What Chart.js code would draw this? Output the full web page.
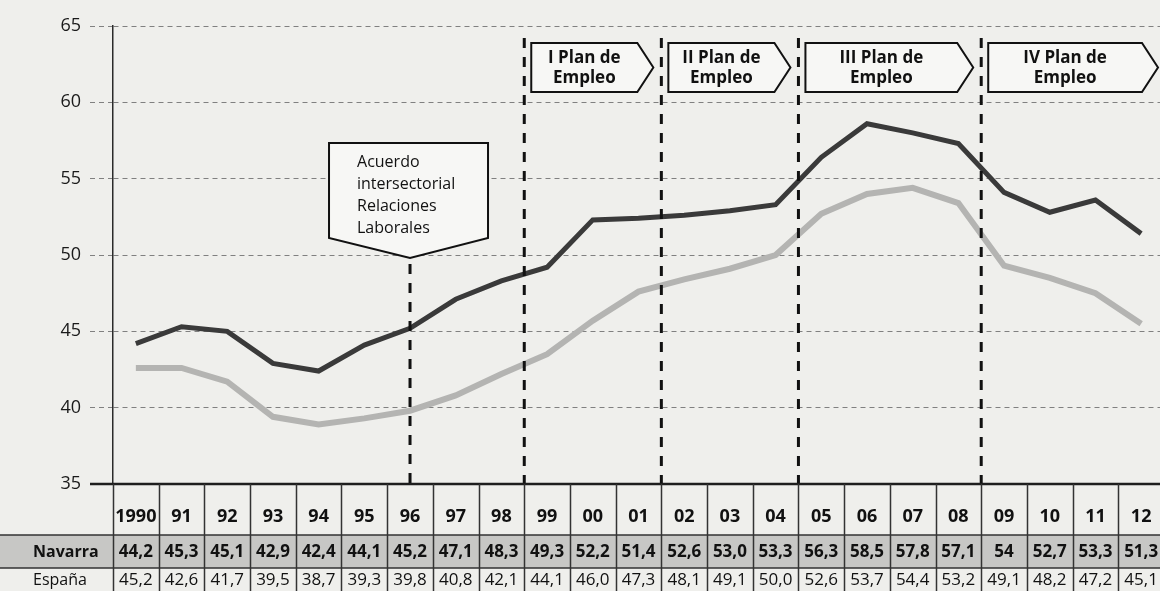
<!DOCTYPE html>
<html>
<head>
<meta charset="utf-8">
<script src="https://cdn.jsdelivr.net/npm/chart.js@4.4.1/dist/chart.umd.min.js"></script>
<style>
  html, body { margin: 0; padding: 0; background: #efefec; overflow: hidden; }
  #contenedor { position: relative; width: 1166px; height: 591px; }
</style>
</head>
<body>
<div id="contenedor"><canvas id="grafico"></canvas></div>
<script>
// Datos
const anos = ['1990', '91', '92', '93', '94', '95', '96', '97', '98', '99', '00', '01',
              '02', '03', '04', '05', '06', '07', '08', '09', '10', '11', '12'];

const navarra = [44.2, 45.3, 45.0, 42.9, 42.4, 44.1, 45.2, 47.1, 48.3, 49.2, 52.3, 52.4,
                 52.6, 52.9, 53.3, 56.4, 58.6, 58.0, 57.3, 54.1, 52.8, 53.6, 51.4];
const espana = [42.6, 42.6, 41.7, 39.4, 38.9, 39.3, 39.8, 40.8, 42.2, 43.5, 45.7, 47.6,
                48.4, 49.1, 50.0, 52.7, 54.0, 54.4, 53.4, 49.3, 48.5, 47.5, 45.5];

// textos de la tabla inferior, tal como aparecen impresos
const filaNavarra = ['44,2', '45,3', '45,1', '42,9', '42,4', '44,1', '45,2', '47,1', '48,3', '49,3', '52,2', '51,4',
                     '52,6', '53,0', '53,3', '56,3', '58,5', '57,8', '57,1', '54', '52,7', '53,3', '51,3'];
const filaEspana = ['45,2', '42,6', '41,7', '39,5', '38,7', '39,3', '39,8', '40,8', '42,1', '44,1', '46,0', '47,3',
                    '48,1', '49,1', '50,0', '52,6', '53,7', '54,4', '53,2', '49,1', '48,2', '47,2', '45,1'];

const ticksY = [35, 40, 45, 50, 55, 60, 65];

// anotaciones
const acuerdoAno = '96';
const acuerdoTexto = ['Acuerdo', 'intersectorial', 'Relaciones', 'Laborales'];
const planesInicio = ['99', '02', '05', '09'];
const planesTexto = [['I Plan de', 'Empleo'], ['II Plan de', 'Empleo'], ['III Plan de', 'Empleo'], ['IV Plan de', 'Empleo']];

const FUENTE = '"Open Sans", sans-serif';

function lineaDiscontinua(ctx, x, y1, y2) {
    ctx.save();
    ctx.strokeStyle = '#111';
    ctx.lineWidth = 3;
    ctx.setLineDash([10, 9]);
    ctx.beginPath();
    ctx.moveTo(x, y1);
    ctx.lineTo(x, y2);
    ctx.stroke();
    ctx.restore();
}

const extras = {
    id: 'extras',
    afterDatasetsDraw(chart) {
        const { ctx, scales: { x, y } } = chart;
        const colW = x.getPixelForValue(1) - x.getPixelForValue(0);
        const limite = ano => x.getPixelForValue(anos.indexOf(ano)) - colW / 2;

        // Acuerdo intersectorial
        const xa = x.getPixelForValue(anos.indexOf(acuerdoAno));
        lineaDiscontinua(ctx, xa, 264, y.bottom);
        ctx.save();
        ctx.beginPath();
        ctx.moveTo(xa - 81, 143);
        ctx.lineTo(xa + 78, 143);
        ctx.lineTo(xa + 78, 238);
        ctx.lineTo(xa, 258);
        ctx.lineTo(xa - 81, 238);
        ctx.closePath();
        ctx.fillStyle = '#f7f7f5';
        ctx.fill();
        ctx.lineWidth = 2;
        ctx.strokeStyle = '#111';
        ctx.stroke();
        ctx.fillStyle = '#111';
        ctx.font = '16px ' + FUENTE;
        ctx.textAlign = 'left';
        ctx.textBaseline = 'middle';
        acuerdoTexto.forEach((t, i) => ctx.fillText(t, xa - 53, 162 + i * 22));
        ctx.restore();

        // Planes de empleo
        const xs = planesInicio.map(limite);
        xs.forEach((xp, i) => {
            lineaDiscontinua(ctx, xp, 38, y.bottom);
            const sig = i < xs.length - 1 ? xs[i + 1] : chart.width;
            const izq = xp + 7, punta = sig - 8, corte = sig - 24;
            ctx.save();
            ctx.beginPath();
            ctx.moveTo(izq, 43);
            ctx.lineTo(corte, 43);
            ctx.lineTo(punta, 67.5);
            ctx.lineTo(corte, 92);
            ctx.lineTo(izq, 92);
            ctx.closePath();
            ctx.fillStyle = '#f7f7f5';
            ctx.fill();
            ctx.lineWidth = 2;
            ctx.strokeStyle = '#111';
            ctx.stroke();
            ctx.fillStyle = '#111';
            ctx.font = 'bold 17px ' + FUENTE;
            ctx.textAlign = 'center';
            ctx.textBaseline = 'middle';
            const cx = (izq + corte) / 2;
            ctx.fillText(planesTexto[i][0], cx, 58);
            ctx.fillText(planesTexto[i][1], cx, 78);
            ctx.restore();
        });
    },
    afterDraw(chart) {
        const { ctx, scales: { x, y } } = chart;
        const colW = x.getPixelForValue(1) - x.getPixelForValue(0);
        const W = chart.width, H = chart.height;
        const filaA = 535, filaB = 568;

        ctx.save();
        // fila sombreada de Navarra
        ctx.fillStyle = '#c7c7c5';
        ctx.fillRect(0, filaA, W, filaB - filaA);

        // línea base
        ctx.strokeStyle = '#1e1e1e';
        ctx.lineWidth = 2.5;
        ctx.beginPath();
        ctx.moveTo(90, y.bottom);
        ctx.lineTo(W, y.bottom);
        ctx.stroke();

        // rejilla de la tabla
        ctx.strokeStyle = '#333';
        ctx.lineWidth = 1.5;
        ctx.beginPath();
        for (let i = 0; i <= anos.length; i++) {
            const xx = Math.round(x.left + i * colW) + 0.5;
            ctx.moveTo(xx, y.bottom);
            ctx.lineTo(xx, H);
        }
        ctx.moveTo(0, filaA);
        ctx.lineTo(W, filaA);
        ctx.moveTo(0, filaB);
        ctx.lineTo(W, filaB);
        ctx.stroke();

        // textos
        ctx.fillStyle = '#111';
        ctx.textBaseline = 'middle';
        ctx.textAlign = 'left';
        ctx.font = 'bold 16px ' + FUENTE;
        ctx.fillText('Navarra', 33, 552);
        ctx.font = '16px ' + FUENTE;
        ctx.fillText('España', 33, 580);

        ctx.textAlign = 'center';
        anos.forEach((a, i) => {
            const cx = x.getPixelForValue(i);
            ctx.font = 'bold 17px ' + FUENTE;
            ctx.fillText(filaNavarra[i], cx, 552);
            ctx.font = '17px ' + FUENTE;
            ctx.fillText(filaEspana[i], cx, 580);
        });
        ctx.restore();
    }
};

new Chart(document.getElementById('grafico'), {
    type: 'line',
    data: {
        labels: anos,
        datasets: [
            {
                label: 'Navarra',
                data: navarra,
                borderColor: '#3a3a3a',
                borderWidth: 5,
                pointRadius: 0,
                tension: 0
            },
            {
                label: 'España',
                data: espana,
                borderColor: '#b4b4b2',
                borderWidth: 6,
                pointRadius: 0,
                tension: 0
            }
        ]
    },
    options: {
        responsive: true,
        maintainAspectRatio: false,
        animation: false,
        layout: { padding: { top: 26, left: 0, right: 2, bottom: 0 } },
        plugins: {
            legend: { display: false },
            tooltip: { enabled: false }
        },
        scales: {
            x: {
                offset: true,
                grid: { display: false },
                border: { display: false },
                ticks: {
                    color: '#111',
                    font: { family: FUENTE, size: 18, weight: 'bold' },
                    padding: 14,
                    maxRotation: 0,
                    autoSkip: false
                },
                afterFit(s) { s.height = 107; }
            },
            y: {
                min: 35,
                max: 65,
                afterBuildTicks(s) { s.ticks = ticksY.map(v => ({ value: v })); },
                ticks: {
                    color: '#1a1a1a',
                    font: { family: FUENTE, size: 18 },
                    padding: 9
                },
                grid: {
                    color: c => c.tick && c.tick.value === 35 ? 'rgba(0,0,0,0)' : '#808080',
                    tickColor: c => c.tick && c.tick.value === 35 ? 'rgba(0,0,0,0)' : '#808080',
                    lineWidth: 1,
                    tickLength: 23,
                    tickBorderDash: [5, 4]
                },
                border: { display: true, color: '#2a2a2a', width: 1.5, dash: [5, 4] },
                afterFit(s) { s.width = 113; }
            }
        }
    },
    plugins: [extras]
});
</script>
</body>
</html>
